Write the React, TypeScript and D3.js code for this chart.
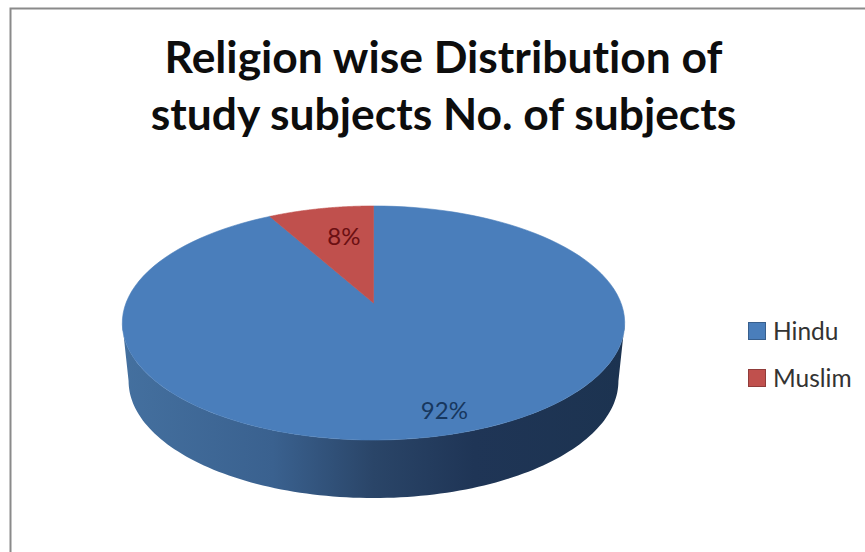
import React from "react";
import * as d3 from "d3";

const categories = ["Hindu", "Muslim"];
const shares = [92, 8];
const percentLabels = ["92%", "8%"];
const sliceColors = ["#4a7ebb", "#c0504d"];
const labelColors = ["#17375e", "#6b0f12"];
const titleLines = ["Religion wise Distribution of", "study subjects No. of subjects"];

const WIDTH = 865;
const HEIGHT = 552;

// Perspective projection of the pie disc: (u, v) on the unit circle, v towards the viewer.
const cx = 373.5;
const apexY = 303;
const scaleU = 247.5;
const scaleV = 61.8;
const tilt = -0.171;
const depth = 58;
const lowerShrink = 0.975;

const project = (u: number, v: number) => {
  const w = 1 + tilt * v;
  return [cx + (scaleU * u) / w, (apexY + scaleV * v) / w] as [number, number];
};
const rim = (theta: number) => project(Math.sin(theta), -Math.cos(theta));
const lowerRim = (theta: number) => {
  const [x, y] = rim(theta);
  return [cx + (x - cx) * lowerShrink, y + depth] as [number, number];
};

const sweep = (from: number, to: number, fn: (t: number) => [number, number]) =>
  d3.range(0, 121).map((i) => fn(from + ((to - from) * i) / 120));

const line = d3.line().curve(d3.curveLinear);

export default function App() {
  const arcs = d3.pie<number>().sort(null)(shares);

  // Silhouette extremes of the projected rim, used for the visible side wall.
  const edge = Math.acos(tilt);
  const wallStart = edge;
  const wallEnd = 2 * Math.PI - edge;
  const wallPath =
    line([...sweep(wallStart, wallEnd, rim), ...sweep(wallEnd, wallStart, lowerRim)]) + "Z";

  const slicePaths = arcs.map(
    (a) => line([project(0, 0), ...sweep(a.startAngle, a.endAngle, rim)]) + "Z"
  );

  const labelPositions = arcs.map((a, i) => {
    const mid = (a.startAngle + a.endAngle) / 2;
    const r = i === 0 ? 0.85 : 0.62;
    const [x, y] = project(r * Math.sin(mid), -r * Math.cos(mid));
    return i === 0 ? [x + 10, y - 1] : [x + 5, y - 5];
  });

  const legendY = d3.scalePoint<string>().domain(categories).range([331, 378]);

  return (
    <svg
      width={WIDTH}
      height={HEIGHT}
      viewBox={`0 0 ${WIDTH} ${HEIGHT}`}
      style={{ position: "absolute", left: 0, top: 0, background: "#fff", fontVariantLigatures: "none" }}
    >
      <defs>
        <linearGradient id="wallShade" x1="122" x2="625" y1="0" y2="0" gradientUnits="userSpaceOnUse">
          <stop offset="0" stopColor="#44709f" />
          <stop offset="0.3" stopColor="#3a618f" />
          <stop offset="0.5" stopColor="#2a4568" />
          <stop offset="0.7" stopColor="#1f3556" />
          <stop offset="1" stopColor="#1c3350" />
        </linearGradient>
      </defs>

      <path d="M10.5 552V8.5H865" fill="none" stroke="#8a8a8a" strokeWidth={2} />

      <g fontFamily="Lato, Carlito, sans-serif" fontWeight={700} fontSize={44.4} textAnchor="middle" fill="#0d0d0d">
        {titleLines.map((t, i) => (
          <text key={t} x={443.5} y={73 + i * 57}>
            {t}
          </text>
        ))}
      </g>

      <path d={wallPath} fill="url(#wallShade)" />
      {slicePaths.map((d, i) => (
        <path key={categories[i]} d={d} fill={sliceColors[i]} stroke={sliceColors[i]} strokeWidth={0.6} />
      ))}

      <g fontFamily="Lato, Carlito, sans-serif" fontSize={24} textAnchor="middle">
        {percentLabels.map((t, i) => (
          <text key={t} x={labelPositions[i][0]} y={labelPositions[i][1]} dy="0.35em" fill={labelColors[i]}>
            {t}
          </text>
        ))}
      </g>

      <g fontFamily="Lato, Carlito, sans-serif" fontSize={24.5} fill="#333333">
        {categories.map((c, i) => {
          const y = legendY(c) as number;
          return (
            <g key={c}>
              <rect
                x={748.5}
                y={y - 8.5}
                width={17}
                height={17}
                fill={sliceColors[i]}
                stroke={d3.color(sliceColors[i])!.darker(0.8).formatHex()}
                strokeWidth={1}
              />
              <text x={773} y={y} dy="0.35em">
                {c}
              </text>
            </g>
          );
        })}
      </g>
    </svg>
  );
}
